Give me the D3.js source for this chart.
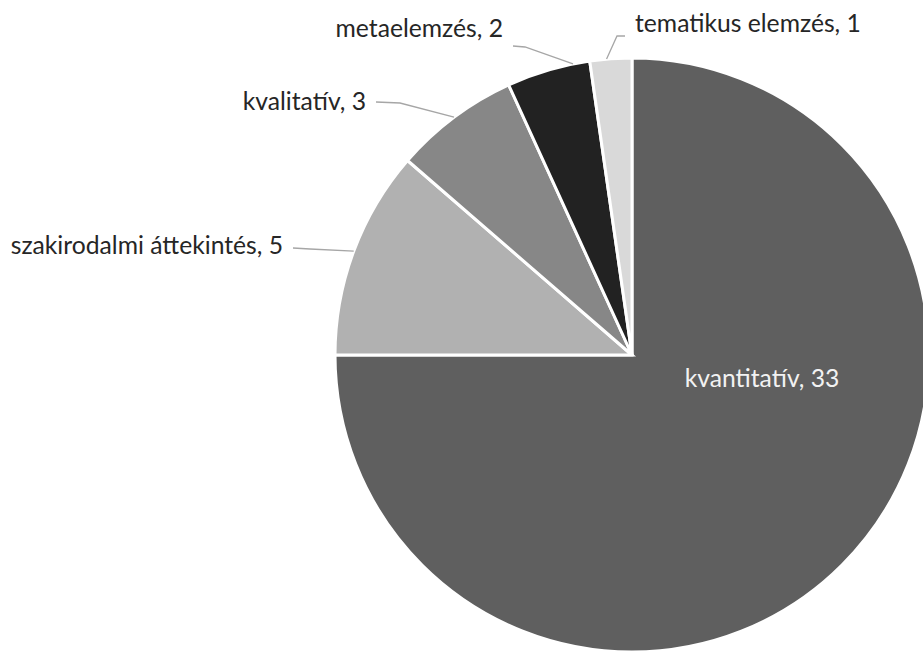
<!DOCTYPE html>
<html><head><meta charset="utf-8">
<script src="https://cdn.jsdelivr.net/npm/d3@7"></script>
<style>html,body{margin:0;padding:0;background:#fff;overflow:hidden}</style>
</head><body>
<svg id="chart" width="923" height="651"></svg>
<script>
const categories = ["kvantitatív", "szakirodalmi áttekintés", "kvalitatív", "metaelemzés", "tematikus elemzés"];
const values = [33, 5, 3, 2, 1];
const colors = ["#5f5f5f", "#b1b1b1", "#878787", "#222222", "#d9d9d9"];

// label layout: anchor angle fraction within slice, elbow point, label text start
const labelLayout = [
  null,
  {frac: 0.5, elbow: [310, 249], text: [283, 254], anchor: "end"},
  {frac: 0.5, elbow: [400, 103], text: [366, 110], anchor: "end"},
  {frac: 0.8, elbow: [525, 47], text: [503, 37], anchor: "end"},
  {frac: 0.4, elbow: [617, 36], text: [635, 32], anchor: "start", elbow2: [625, 36]}
];

const svg = d3.select("#chart");
const cx = 632, cy = 355, R = 297;
const g = svg.append("g").attr("transform", `translate(${cx},${cy})`);
const data = categories.map((c, i) => ({cat: c, value: values[i], i}));
const pie = d3.pie().sort(null).value(d => d.value);
const arcs = pie(data);
const arc = d3.arc().innerRadius(0).outerRadius(R);

g.selectAll("path.slice").data(arcs).join("path")
  .attr("class", "slice")
  .attr("d", arc)
  .attr("fill", d => colors[d.data.i])
  .attr("stroke", "#fff")
  .attr("stroke-width", 3)
  .attr("stroke-linejoin", "miter");

const font = "Lato, 'Open Sans', sans-serif";
const fs = 24.7;

arcs.forEach((a, i) => {
  const L = labelLayout[i];
  const label = `${a.data.cat}, ${a.data.value}`;
  if (!L) {
    svg.append("text")
      .attr("x", 762).attr("y", 387)
      .attr("text-anchor", "middle")
      .attr("font-family", font).attr("font-size", fs)
      .attr("fill", "#f2f2f2")
      .text(label);
    return;
  }
  const ang = a.startAngle + (a.endAngle - a.startAngle) * L.frac;
  const px = cx + R * Math.sin(ang), py = cy - R * Math.cos(ang);
  const pts = [[px, py], L.elbow];
  if (L.elbow2) pts.push(L.elbow2);
  else pts.push([L.anchor === "end" ? L.text[0] + 10 : L.text[0] - 10, L.elbow[1] - 1]);
  svg.append("path")
    .attr("d", d3.line()(pts))
    .attr("fill", "none").attr("stroke", "#a6a6a6").attr("stroke-width", 1.3);
  svg.append("text")
    .attr("x", L.text[0]).attr("y", L.text[1])
    .attr("text-anchor", L.anchor)
    .attr("font-family", font).attr("font-size", fs)
    .attr("fill", "#262626")
    .text(label);
});
</script>
</body></html>
